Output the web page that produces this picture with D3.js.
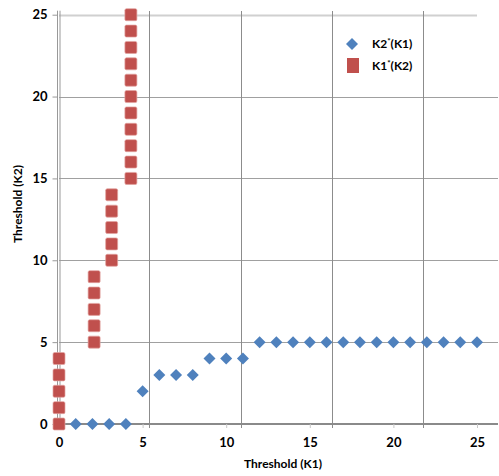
<!DOCTYPE html>
<html>
<head>
<meta charset="utf-8">
<script src="https://cdn.jsdelivr.net/npm/d3@7"></script>
<style>
  body { margin: 0; background: #fff; }
  text { font-family: Lato, "Open Sans", sans-serif; font-weight: bold; fill: #000; }
</style>
</head>
<body>
<div class="chart"></div>
<script>
// K2*(K1): best K2 threshold for each K1
var k1Values = [0, 1, 2, 3, 4, 5, 6, 7, 8, 9, 10, 11, 12, 13, 14, 15, 16, 17, 18, 19, 20, 21, 22, 23, 24, 25];
var k2Best   = [0, 0, 0, 0, 0, 2, 3, 3, 3, 4, 4, 4, 5, 5, 5, 5, 5, 5, 5, 5, 5, 5, 5, 5, 5, 5];

var k2Values = [0, 1, 2, 3, 4, 5, 6, 7, 8, 9, 10, 11, 12, 13, 14, 15, 16, 17, 18, 19, 20, 21, 22, 23, 24, 25];
var k1Best   = [0, 0, 0, 0, 0, 2.1, 2.1, 2.1, 2.1, 2.1, 3.15, 3.15, 3.15, 3.15, 3.15,
                4.3, 4.3, 4.3, 4.3, 4.3, 4.3, 4.3, 4.3, 4.3, 4.3, 4.3];

var tickValues = [0, 5, 10, 15, 20, 25];
// vertical gridlines don't line up with the ticks in the original
var xGrid = [5.4, 10.86, 16.32, 21.78];

var seriesNames = ["K2", "(K1)", "K1", "(K2)"];

var width = 499,
    height = 476;

var x = d3.scaleLinear().domain([0, 25]).range([59, 477]);
var y = d3.scaleLinear().domain([0, 25]).range([424, 14.7]);

var svg = d3.select(".chart").append("svg")
    .attr("width", width)
    .attr("height", height);

// horizontal gridlines
svg.append("g").selectAll("line")
    .data(tickValues.slice(1))
  .enter().append("line")
    .attr("x1", x(0))
    .attr("x2", function(d) { return d === 25 ? x(25) : 498; })
    .attr("y1", function(d) { return Math.round(y(d)) + 0.5; })
    .attr("y2", function(d) { return Math.round(y(d)) + 0.5; })
    .attr("stroke", function(d) { return d === 25 ? "#d0d0d0" : "#a0a0a0"; })
    .attr("stroke-width", function(d) { return d === 25 ? 2 : 1; });

// vertical gridlines
svg.append("g").selectAll("line")
    .data(xGrid)
  .enter().append("line")
    .attr("x1", function(d) { return Math.round(x(d)) + 0.5; })
    .attr("x2", function(d) { return Math.round(x(d)) + 0.5; })
    .attr("y1", 11)
    .attr("y2", 428)
    .attr("stroke", "#8c8c8c")
    .attr("stroke-width", 1);

// x axis
var xAxis = svg.append("g")
    .attr("transform", "translate(0," + y(0) + ")")
    .call(d3.axisBottom(x).tickValues(tickValues).tickSize(4).tickPadding(10));
xAxis.select(".domain").attr("stroke", "#8a8a8a").attr("stroke-width", 2)
    .attr("d", "M" + x(0) + ",0H498");
xAxis.selectAll(".tick line").attr("stroke", "#c8c8c8");
xAxis.selectAll(".tick text")
    .style("font-family", "Lato, 'Open Sans', sans-serif")
    .style("font-weight", "bold")
    .style("font-size", "13px")
    .attr("fill", "#000");

// y axis
var yAxis = svg.append("g")
    .attr("transform", "translate(" + 57.5 + ",0)")
    .call(d3.axisLeft(y).tickValues(tickValues).tickSize(5).tickPadding(5));
yAxis.select(".domain").attr("stroke", "#999").attr("d", "M0," + (y(25) - 4) + "V" + y(0));
yAxis.selectAll(".tick line").attr("stroke", "#999");
yAxis.selectAll(".tick text")
    .style("font-family", "Lato, 'Open Sans', sans-serif")
    .style("font-weight", "bold")
    .style("font-size", "13px")
    .attr("fill", "#000");

svg.append("line")
    .attr("x1", 60).attr("x2", 60)
    .attr("y1", y(25) - 4).attr("y2", y(0))
    .attr("stroke", "#999");

// series
var diamond = d3.symbol().type(d3.symbolSquare).size(72);

svg.append("g").selectAll("path")
    .data(k1Values)
  .enter().append("path")
    .attr("d", diamond)
    .attr("transform", function(d, i) {
      return "translate(" + x(d) + "," + y(k2Best[i]) + ") rotate(45)";
    })
    .attr("fill", "#4f81bd");

svg.append("g").selectAll("rect")
    .data(k2Values)
  .enter().append("rect")
    .attr("x", function(d, i) { return x(k1Best[i]) - 6; })
    .attr("y", function(d) { return y(d) - 6; })
    .attr("width", 12)
    .attr("height", 12)
    .attr("rx", 1.5)
    .attr("fill", "#c0504d")
    .attr("stroke", "#e3a3a1")
    .attr("stroke-width", 0.7);

// legend
svg.append("path")
    .attr("d", diamond)
    .attr("transform", "translate(352,44) rotate(45)")
    .attr("fill", "#4f81bd");
svg.append("rect")
    .attr("x", 347).attr("y", 58)
    .attr("width", 12).attr("height", 15)
    .attr("fill", "#c0504d");

var legendText = function(yPos, a, b) {
  var t = svg.append("text")
      .attr("x", 372)
      .attr("y", yPos)
      .style("font-size", "12px");
  t.append("tspan").text(a);
  t.append("tspan").text("*").attr("dy", -4).style("font-size", "8px");
  t.append("tspan").text(b).attr("dy", 4);
};
legendText(48, seriesNames[0], seriesNames[1]);
legendText(70, seriesNames[2], seriesNames[3]);

// axis titles
svg.append("text")
    .attr("x", 283)
    .attr("y", 468)
    .attr("text-anchor", "middle")
    .style("font-size", "12px")
    .text("Threshold (K1)");

svg.append("text")
    .attr("transform", "translate(22,204) rotate(-90)")
    .attr("text-anchor", "middle")
    .style("font-size", "12px")
    .text("Threshold (K2)");
</script>
</body>
</html>
